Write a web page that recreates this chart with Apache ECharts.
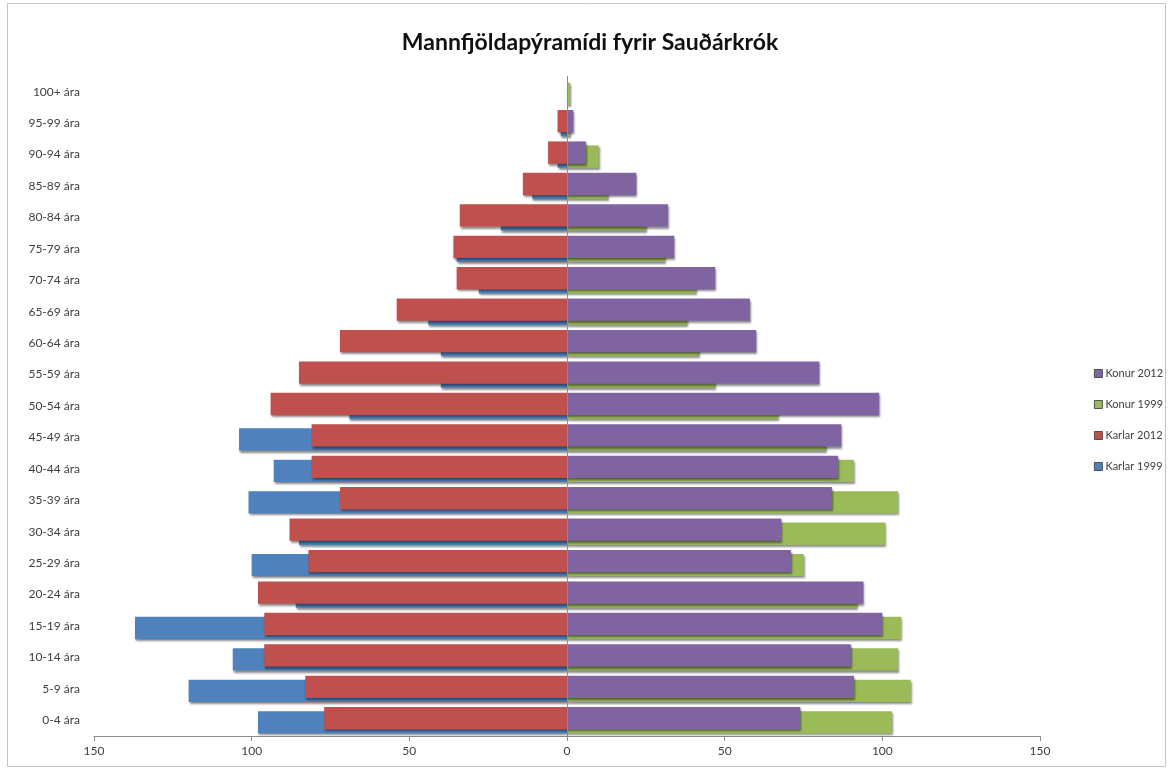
<!DOCTYPE html>
<html>
 <head>
  <meta charset="utf-8">
  <title>Mannfjöldapýramídi fyrir Sauðárkrók</title>
  <script src="https://cdn.jsdelivr.net/npm/echarts@6/dist/echarts.min.js"></script>
  <style>
    html, body, #container {
    width: 100%;
    height: 100%;
    margin: 0;
    padding: 0;
    background: #fff;
    }
  </style>
 </head>

<body>
  <div id="container"></div>
  <script>

    // age groups, bottom to top
    var ageGroups = ['0-4 ára', '5-9 ára', '10-14 ára', '15-19 ára', '20-24 ára', '25-29 ára',
      '30-34 ára', '35-39 ára', '40-44 ára', '45-49 ára', '50-54 ára', '55-59 ára', '60-64 ára',
      '65-69 ára', '70-74 ára', '75-79 ára', '80-84 ára', '85-89 ára', '90-94 ára', '95-99 ára', '100+ ára'];

    var karlar1999 = [98, 120, 106, 137, 86, 100, 85, 101, 93, 104, 69, 40, 40, 44, 28, 35, 21, 11, 3, 2, 0];
    var karlar2012 = [77, 83, 96, 96, 98, 82, 88, 72, 81, 81, 94, 85, 72, 54, 35, 36, 34, 14, 6, 3, 0];
    var konur1999 = [103, 109, 105, 106, 92, 75, 101, 105, 91, 82, 67, 47, 42, 38, 41, 31, 25, 13, 10, 1, 1];
    var konur2012 = [74, 91, 90, 100, 94, 71, 68, 84, 86, 87, 99, 80, 60, 58, 47, 34, 32, 22, 6, 2, 0];

    var xTicks = [-150, 150, 50];  // min, max, step

    var chartDom = document.getElementById('container');
    var myChart = echarts.init(chartDom);

    function neg(arr) {
      return arr.map(function(v) { return -v; });
    }

    var shadow = {
      shadowColor: 'rgba(0,0,0,0.45)',
      shadowBlur: 2,
      shadowOffsetX: 1,
      shadowOffsetY: 2
    };

    function barSeries(name, stack, z, data, color) {
      return {
        name: name, type: 'bar', stack: stack, z: z,
        data: data,
        barWidth: '71%', barGap: '-82%',
        itemStyle: Object.assign({ color: color }, shadow)
      };
    }

    var series = [
      barSeries('Karlar 2012', 'y2012', 3, neg(karlar2012), '#C0504D'),
      barSeries('Konur 2012', 'y2012', 3, konur2012, '#8064A2'),
      barSeries('Karlar 1999', 'y1999', 2, neg(karlar1999), '#4F81BD'),
      barSeries('Konur 1999', 'y1999', 2, konur1999, '#9BBB59')
    ];
    // vertical line at zero
    series[0].markLine = {
      silent: true, symbol: 'none', label: { show: false },
      lineStyle: { color: '#8c8c8c', type: 'solid', width: 1 },
      data: [{ xAxis: 0 }]
    };

    var options = {
      animation: false,
      textStyle: { fontFamily: 'Lato' },
      title: {
        text: 'Mannfjöldapýramídi fyrir Sauðárkrók',
        left: 585,
        textAlign: 'center',
        top: 26,
        textStyle: { fontFamily: 'Lato', fontSize: 23, fontWeight: 'bold', color: '#111' }
      },
      legend: {
        orient: 'vertical',
        left: 1089,
        top: 363,
        itemWidth: 8,
        itemHeight: 8,
        itemGap: 20,
        icon: 'rect',
        data: ['Konur 2012', 'Konur 1999', 'Karlar 2012', 'Karlar 1999'],
        textStyle: { fontSize: 11, color: '#404040', padding: [0, 0, 0, -2] },
        itemStyle: { borderColor: '#333', borderWidth: 0.8, shadowBlur: 0, shadowOffsetX: 0, shadowOffsetY: 0 }
      },
      grid: { left: 94, right: 131, top: 76, bottom: 34 },
      xAxis: {
        type: 'value',
        min: xTicks[0],
        max: xTicks[1],
        interval: xTicks[2],
        splitLine: { show: false },
        axisLine: { show: true, lineStyle: { color: '#8c8c8c' } },
        axisTick: { show: true, length: 5, lineStyle: { color: '#8c8c8c' } },
        axisLabel: {
          color: '#404040', fontSize: 12, margin: 9,
          formatter: function(v) { return Math.abs(v); }
        }
      },
      yAxis: {
        type: 'category',
        data: ageGroups,
        axisLine: { show: false, onZero: false },
        axisTick: { show: false },
        axisLabel: { color: '#404040', fontSize: 12, margin: 14 }
      },
      series: series,
      graphic: [{
        type: 'rect',
        shape: { x: 7.5, y: 3.5, width: 1158, height: 763 },
        style: { fill: 'none', stroke: '#c4c4c4', lineWidth: 1 },
        silent: true
      }]
    };

    myChart.setOption(options);
  </script>
</body>
</html>
